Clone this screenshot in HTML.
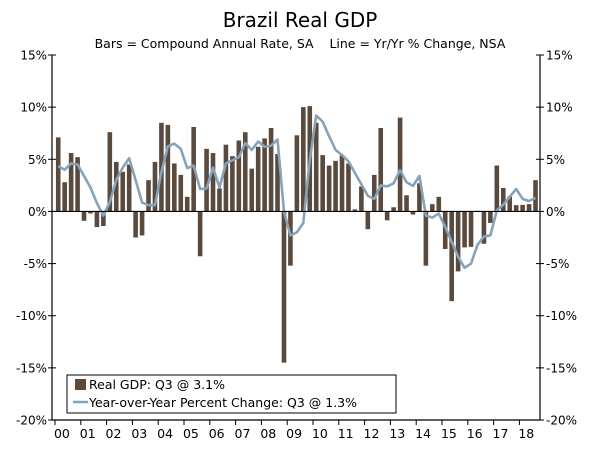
<!DOCTYPE html>
<html><head><meta charset="utf-8"><style>
body{margin:0;background:#fff;}
svg text{font-family:"DejaVu Sans","Liberation Sans",sans-serif;}
</style></head><body>
<svg id="chart" width="600" height="447" viewBox="0 0 600 447" xmlns="http://www.w3.org/2000/svg">
<text x="300" y="27" text-anchor="middle" font-size="20" fill="#000">Brazil Real GDP</text>
<text x="300" y="48" text-anchor="middle" font-size="12.5" fill="#000" style="white-space:pre">Bars = Compound Annual Rate, SA    Line = Yr/Yr % Change, NSA</text>
<g id="grid"></g><g id="bars"></g><g id="line"></g><g id="axes"></g>
<g>
<rect x="67" y="375" width="329" height="38" fill="#fff" stroke="#000" stroke-width="1"/>
<rect x="75" y="379" width="11" height="11" fill="#5a4a3e"/>
<text x="89" y="389" font-size="12.5">Real GDP: Q3 @ 3.1%</text>
<line x1="73" y1="402" x2="88" y2="402" stroke="#87a3b7" stroke-width="2.5"/>
<text x="89" y="407" font-size="12.5">Year-over-Year Percent Change: Q3 @ 1.3%</text>
</g>
</svg>
<script>
const years=["00","01","02","03","04","05","06","07","08","09","10","11","12","13","14","15","16","17","18"];
const yTicks=[15,10,5,0,-5,-10,-15,-20];
const barValues=[7.1,2.8,5.6,5.2,-0.9,-0.2,-1.5,-1.4,7.6,4.75,3.8,4.5,-2.5,-2.3,3.0,4.75,8.5,8.3,4.6,3.5,1.4,8.1,-4.3,6.0,5.6,2.2,6.4,5.3,6.8,7.6,4.1,6.2,7.0,8.0,5.5,-14.5,-5.2,7.3,10.0,10.1,8.5,5.4,4.4,4.85,5.4,4.6,0.2,2.4,-1.7,3.5,8.0,-0.85,0.4,9.0,1.55,-0.3,2.7,-5.2,0.7,1.4,-3.6,-8.6,-5.75,-3.45,-3.4,0.05,-3.1,-1.1,4.4,2.25,1.45,0.6,0.63,0.7,3.0];
const yoyValues=[4.35,4.0,4.6,4.5,3.4,2.3,0.8,-0.4,0.9,3.0,4.2,5.1,3.0,0.85,0.6,0.6,3.8,6.25,6.5,6.0,4.15,4.4,2.15,2.2,4.2,2.3,4.6,4.9,5.2,6.55,5.9,6.7,6.2,6.3,6.9,0.0,-2.3,-2.0,-1.1,4.9,9.2,8.6,7.2,5.9,5.4,4.8,3.7,2.6,1.5,1.2,2.5,2.4,2.7,3.95,2.8,2.45,3.4,-0.4,-0.6,-0.2,-1.5,-2.9,-4.35,-5.4,-5.0,-3.2,-2.4,-2.3,0.1,0.65,1.4,2.15,1.2,1.0,1.3];
const L=52,R=540,T=55,B=420,yMax=15,yMin=-20,n=barValues.length,step=6.45;
const yS=v=>T+(yMax-v)*(B-T)/(yMax-yMin);
const xS=i=>L+3.5+step*(i+0.5)-0.5;
const NS="http://www.w3.org/2000/svg";
function mk(tag,attrs,parent){const e=document.createElementNS(NS,tag);for(const k in attrs)e.setAttribute(k,attrs[k]);parent.appendChild(e);return e;}
const gB=document.getElementById('bars'),gL=document.getElementById('line'),gA=document.getElementById('axes');
barValues.forEach((v,i)=>{const y0=yS(0),y1=yS(v);
const r=mk('rect',{x:xS(i)-2.3,y:Math.min(y0,y1),width:4.6,height:Math.max(0.5,Math.abs(y1-y0)),fill:'#5a4a3e'},gB);

});
const z=mk('line',{x1:L,x2:R,y1:yS(0),y2:yS(0),stroke:'#000','stroke-width':1.2},gA);


const p=mk('polyline',{points:yoyValues.map((v,i)=>xS(i)+','+yS(v)).join(' '),fill:'none',stroke:'#87a3b7','stroke-width':2.6,'stroke-linejoin':'round'},gL);


[L,R].forEach((x,k)=>{const a=mk('line',{x1:x,x2:x,y1:T,y2:B,stroke:'#000','stroke-width':1.2},gA);

});
const xa=mk('line',{x1:L,x2:R,y1:B,y2:B,stroke:'#000','stroke-width':1.2},gA);


yTicks.forEach(v=>{const y=yS(v);
mk('line',{x1:L-4,x2:L+4,y1:y,y2:y,stroke:'#000'},gA);
mk('line',{x1:R-4,x2:R+4,y1:y,y2:y,stroke:'#000'},gA);
const t1=mk('text',{x:L-5,y:y+4.5,'text-anchor':'end','font-size':12},gA);t1.textContent=v+'%';


const t2=mk('text',{x:R+6,y:y+4.5,'text-anchor':'start','font-size':12},gA);t2.textContent=v+'%';

});
years.forEach((yr,j)=>{const x0=L+3.5+step*4*j-0.5;
mk('line',{x1:x0,x2:x0,y1:B,y2:B+5,stroke:'#000'},gA);
const t=mk('text',{x:x0+step*2-6,y:B+18,'text-anchor':'middle','font-size':12.5},gA);t.textContent=yr;

});
</script>
</body></html>
